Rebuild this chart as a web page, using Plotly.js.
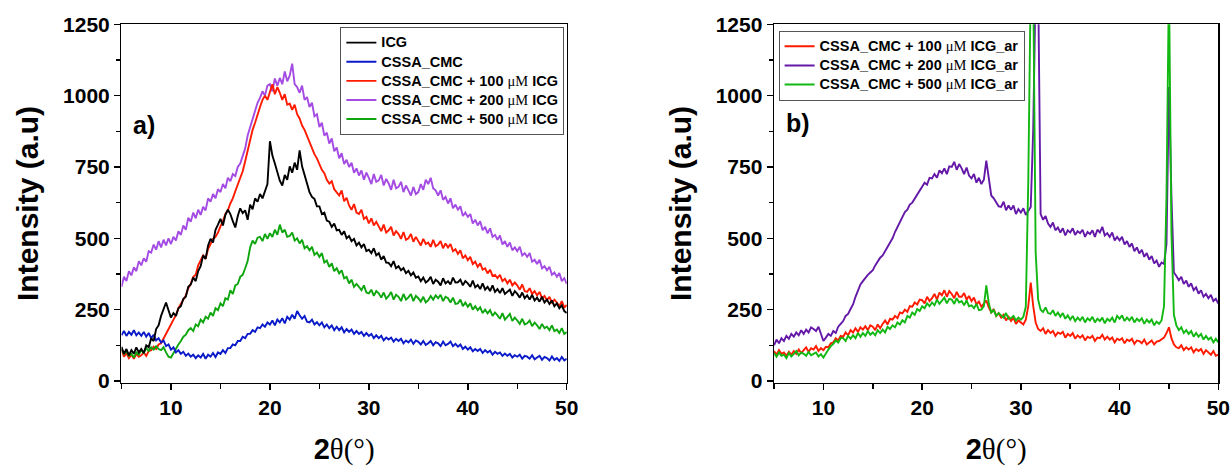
<!DOCTYPE html>
<html><head><meta charset="utf-8">
<script src="https://cdn.plot.ly/plotly-3.0.1.min.js"></script>
<style>html,body{margin:0;padding:0;background:#fff}#chart{width:1231px;height:466px}</style>
</head><body><div id="chart"></div>
<script>
// 2θ grid: first angle and step (degrees)
const twoThetaStart = 5;
const twoThetaStep = 0.25;

// ---- Panel a) ----
const icg = [
 /*5-9*/ 120,95,112,90, 108,96,118,100, 112,98,125,118, 150,140,182,195, 228,250,275,248,
 /*10-14*/ 222,238,228,255, 262,288,295,330, 338,362,350,385, 402,440,428,475, 498,485,530,548,
 /*15-19*/ 568,545,582,600, 585,560,538,578, 605,588,598,565, 618,602,640,628, 655,640,668,690,
 /*20-24*/ 840,790,762,728, 702,685,722,705, 752,730,765,740, 808,752,722,695, 662,645,638,612,
 /*25-29*/ 612,585,590,562, 558,540,552,528, 530,512,525,500, 508,490,498,475, 485,468,480,455,
 /*30-34*/ 460,448,465,440, 448,425,438,415, 414,402,420,395, 402,388,396,378, 386,370,380,362,
 /*35-39*/ 366,350,362,345, 352,365,340,355, 348,335,360,342, 350,338,362,345, 346,355,335,350,
 /*40-44*/ 342,330,352,328, 336,322,342,320, 330,315,335,312, 322,308,325,305, 312,320,298,315,
 /*45-49*/ 305,292,310,290, 300,285,302,282, 292,278,295,275, 285,270,282,262, 272,255,265,245,
 /*50*/ 238];
const cssaCmc = [
 /*5-9*/ 160,175,158,172, 162,178,160,170, 158,172,155,168, 150,162,142,150, 135,142,122,128,
 /*10-14*/ 110,118,100,108, 95,102,88,96, 85,92,80,90, 82,95,78,92, 85,98,84,100,
 /*15-19*/ 95,108,98,115, 115,128,125,140, 140,155,150,165, 165,178,172,188, 185,198,190,205,
 /*20-24*/ 198,212,195,215, 205,220,202,225, 215,232,218,245, 230,218,228,208, 205,215,198,206,
 /*25-29*/ 195,205,188,198, 185,195,178,190, 178,188,170,182, 172,180,165,175, 165,172,158,168,
 /*30-34*/ 158,165,150,160, 150,158,142,152, 145,152,138,148, 140,148,132,142, 135,145,130,142,
 /*35-39*/ 137,128,140,126, 132,140,125,136, 132,122,138,125, 130,138,122,130, 120,128,112,120,
 /*40-44*/ 110,118,104,112, 105,112,98,108, 100,106,92,102, 95,100,88,96, 88,95,82,90,
 /*45-49*/ 85,92,78,88, 85,78,90,76, 82,88,74,84, 80,72,86,74, 80,70,84,72,
 /*50*/ 78];
const icg100 = [
 /*5-9*/ 110,85,98,80, 92,78,95,85, 90,100,88,105, 108,120,112,128, 132,150,162,185,
 /*10-14*/ 198,215,230,255, 270,285,300,325, 340,365,372,405, 420,440,428,462, 480,498,505,520,
 /*15-19*/ 542,560,585,598, 622,640,665,688, 715,735,770,805, 850,880,905,935, 960,985,1000,985,
 /*20-24*/ 1015,1040,1005,1030, 1010,985,1005,968, 972,950,968,935, 920,895,880,858, 840,815,795,780,
 /*25-29*/ 762,740,728,705, 692,700,672,660, 650,668,630,642, 615,600,620,590, 585,600,568,575,
 /*30-34*/ 552,570,545,558, 540,525,548,520, 528,540,510,525, 515,498,522,495, 500,515,488,505,
 /*35-39*/ 490,475,498,480, 485,470,495,472, 478,490,465,482, 468,480,455,462, 445,458,430,440,
 /*40-44*/ 423,435,410,418, 400,412,390,395, 377,390,368,372, 360,372,350,358, 342,355,335,345,
 /*45-49*/ 335,320,338,315, 312,325,305,315, 300,312,290,298, 283,295,275,285, 275,262,280,258,
 /*50*/ 266];
const icg200 = [
 /*5-9*/ 330,365,350,385, 370,398,385,420, 405,430,418,455, 450,478,460,490, 468,495,475,500,
 /*10-14*/ 480,505,492,525, 512,545,530,572, 558,590,570,600, 582,610,598,640, 628,655,640,672,
 /*15-19*/ 662,690,675,712, 700,725,718,750, 762,790,815,860, 888,915,942,975, 992,1015,1000,1035,
 /*20-24*/ 1040,1015,1060,1035, 1062,1040,1085,1050, 1070,1112,1040,1030, 1010,1035,985,995, 960,975,928,935,
 /*25-29*/ 890,905,860,870, 832,850,805,818, 780,798,760,775, 750,765,730,745, 720,738,705,730,
 /*30-34*/ 712,690,725,698, 703,722,685,708, 692,670,705,675, 680,698,662,685, 668,650,680,655,
 /*35-39*/ 662,690,670,705, 690,712,675,668, 650,668,635,645, 622,640,605,618, 600,612,578,590,
 /*40-44*/ 575,585,552,565, 545,560,528,540, 517,535,505,512, 495,510,478,490, 470,485,458,468,
 /*45-49*/ 455,470,440,448, 435,448,418,425, 410,425,395,402, 388,400,372,380, 365,378,350,360,
 /*50*/ 340];
const icg500 = [
 /*5-9*/ 112,95,105,88, 95,82,100,92, 108,98,115,105, 118,110,122,112, 108,118,100,85,
 /*10-14*/ 82,98,110,128, 140,155,162,178, 185,175,198,192, 215,205,225,218, 240,228,255,248,
 /*15-19*/ 272,262,290,285, 318,305,335,340, 365,372,395,420, 468,492,480,502, 505,490,515,498,
 /*20-24*/ 518,505,530,512, 548,520,530,505, 508,520,492,500, 482,495,465,472, 458,470,442,450,
 /*25-29*/ 435,448,415,422, 400,412,385,395, 377,388,360,365, 342,355,330,340, 330,318,335,310,
 /*30-34*/ 307,320,298,315, 307,292,310,288, 298,312,285,302, 295,280,305,285, 293,305,280,298,
 /*35-39*/ 290,278,295,275, 283,298,285,300, 290,302,280,295, 290,275,292,270, 272,285,262,275,
 /*40-44*/ 260,272,250,262, 248,258,238,250, 237,248,228,240, 230,218,238,215, 225,235,210,222,
 /*45-49*/ 212,200,218,198, 202,212,192,205, 195,182,200,185, 190,178,195,175, 180,168,185,165,
 /*50*/ 172];

// ---- Panel b) ----
const icg100ar = [
 /*5-9*/ 105,92,108,95, 100,88,102,92, 105,95,110,98, 108,118,102,115, 110,122,105,115,
 /*10-14*/ 108,120,118,132, 135,150,142,158, 155,170,160,178, 170,185,172,188, 180,192,178,195,
 /*15-19*/ 190,178,198,185, 200,212,198,218, 215,228,220,240, 237,250,242,262, 260,275,268,285,
 /*20-24*/ 283,272,295,280, 290,305,285,310, 300,318,295,315, 305,290,312,295, 295,308,285,298,
 /*25-29*/ 280,292,268,278, 260,272,282,258, 240,252,228,238, 222,232,212,225, 210,222,200,212,
 /*30-34*/ 205,198,215,262, 345,262,205,182, 175,185,165,178, 168,175,158,170, 165,172,152,165,
 /*35-39*/ 158,168,148,160, 152,160,142,155, 150,158,140,152, 150,162,145,155, 145,152,135,148,
 /*40-44*/ 143,150,132,145, 140,148,130,142, 140,132,145,128, 135,142,128,138, 140,145,152,168,
 /*45-49*/ 188,150,128,118, 115,125,108,118, 110,118,100,112, 105,112,95,108, 100,92,105,88,
 /*50*/ 92];
const icg200ar = [
 /*5-9*/ 125,145,132,150, 140,158,148,165, 155,170,160,178, 165,180,170,188, 182,175,190,168,
 /*10-14*/ 140,152,165,158, 175,168,190,200, 210,228,235,252, 268,295,320,338, 350,362,372,380,
 /*15-19*/ 388,405,418,432, 440,455,472,485, 500,522,540,558, 570,592,600,618, 625,640,652,668,
 /*20-24*/ 680,695,688,712, 710,725,712,738, 728,745,725,752, 750,768,740,760, 745,725,748,720,
 /*25-29*/ 710,725,695,712, 690,705,772,700, 650,640,625,612, 610,628,598,615, 600,615,585,602,
 /*30-34*/ 590,605,582,598, 610,880,1400,1400, 585,565,578,552, 540,555,528,538, 520,535,510,528,
 /*35-39*/ 520,535,512,525, 518,530,505,522, 515,528,505,530, 520,540,510,518, 505,520,492,505,
 /*40-44*/ 493,505,478,490, 470,482,455,468, 447,460,435,448, 425,438,412,422, 400,415,410,480,
 /*45-49*/ 1030,650,380,368, 353,365,340,352, 330,342,318,328, 306,318,295,305, 290,302,280,288,
 /*50*/ 271];
const icg500ar = [
 /*5-9*/ 98,85,100,88, 92,80,98,86, 95,105,90,100, 95,88,102,90, 95,100,86,94,
 /*10-14*/ 82,98,110,122, 130,142,135,150, 150,140,158,148, 160,150,168,155, 168,158,175,162,
 /*15-19*/ 170,160,178,168, 180,170,190,182, 195,188,205,198, 213,205,228,222, 240,232,252,245,
 /*20-24*/ 262,255,272,262, 275,265,285,270, 280,292,272,288, 285,270,290,275, 280,265,282,262,
 /*25-29*/ 265,255,270,248, 250,262,335,272, 240,248,228,238, 230,222,238,218, 220,228,212,222,
 /*30-34*/ 215,225,260,700, 1400,1400,450,285, 250,242,258,238, 235,248,228,240, 225,238,218,230,
 /*35-39*/ 215,228,210,222, 212,225,205,220, 212,225,205,218, 210,222,202,218, 210,222,205,228,
 /*40-44*/ 218,230,210,222, 212,225,205,218, 210,220,200,215, 205,215,195,208, 200,212,262,650,
 /*45-49*/ 1400,520,232,195, 178,188,168,178, 165,175,155,168, 155,165,145,158, 145,152,135,148,
 /*50*/ 135];

const namesA = ['ICG', 'CSSA_CMC', 'CSSA_CMC + 100 μM ICG', 'CSSA_CMC + 200 μM ICG', 'CSSA_CMC + 500 μM ICG'];
const namesB = ['CSSA_CMC + 100 μM ICG_ar', 'CSSA_CMC + 200 μM ICG_ar', 'CSSA_CMC + 500 μM ICG_ar'];

const MU = '<span style="font-family:Liberation Serif;font-weight:normal">μM</span>';
function label(s) { return '<span style="font-size:14.5px">' + s.replace('μM', MU) + '</span>'; }

function tr(y, name, color, xa, ya, leg, rank) {
  return {
    type: 'scatter', mode: 'lines', x0: twoThetaStart, dx: twoThetaStep, y: y,
    name: label(name), xaxis: xa, yaxis: ya, legend: leg, legendrank: rank,
    line: {color: color, width: 1.9}, hoverinfo: 'skip'
  };
}

const data = [
  tr(icg200, namesA[3], '#a44be4', 'x', 'y', 'legend', 4),
  tr(icg100, namesA[2], '#ff1a00', 'x', 'y', 'legend', 3),
  tr(icg500, namesA[4], '#0ea60e', 'x', 'y', 'legend', 5),
  tr(cssaCmc, namesA[1], '#0b1ac8', 'x', 'y', 'legend', 2),
  tr(icg, namesA[0], '#000000', 'x', 'y', 'legend', 1),
  tr(icg200ar, namesB[1], '#6418a8', 'x2', 'y2', 'legend2', 2),
  tr(icg100ar, namesB[0], '#ff1a00', 'x2', 'y2', 'legend2', 1),
  tr(icg500ar, namesB[2], '#12b812', 'x2', 'y2', 'legend2', 3)
];

const SANS = 'Liberation Sans, Arial, sans-serif';
const xTitle = '2<span style="font-family:Liberation Serif;font-weight:normal">θ(°)</span>';

function xAxis(domain, anchor) {
  return {
    domain: domain, anchor: anchor, range: [5, 50], tick0: 0, dtick: 10,
    showline: true, linecolor: '#000', linewidth: 1.5, mirror: true,
    ticks: 'outside', ticklen: 6, tickwidth: 1.5, tickcolor: '#000',
    minor: {dtick: 5, tick0: 0, ticks: 'outside', ticklen: 5, tickwidth: 1.5, tickcolor: '#000'},
    showgrid: false, zeroline: false,
    tickfont: {family: SANS, size: 21, color: '#000', weight: 'bold'},
    title: {text: xTitle, standoff: 29, font: {family: SANS, size: 29, color: '#000', weight: 'bold'}}
  };
}
function yAxis(domain, anchor) {
  return {
    domain: domain, anchor: anchor, range: [-6, 1250], tick0: 0, dtick: 250,
    showline: true, linecolor: '#000', linewidth: 1.5, mirror: true,
    ticks: 'outside', ticklen: 6, tickwidth: 1.5, tickcolor: '#000',
    minor: {dtick: 125, tick0: 0, ticks: 'outside', ticklen: 4, tickwidth: 1.5, tickcolor: '#000'},
    showgrid: false, zeroline: false,
    tickfont: {family: SANS, size: 21, color: '#000', weight: 'bold'},
    title: {text: 'Intensity (a.u)', standoff: 15, font: {family: SANS, size: 30, color: '#000', weight: 'bold'}}
  };
}

const legendFont = {family: SANS, size: 12.4, color: '#000', weight: 'bold'};
const layout = {
  width: 1231, height: 466,
  margin: {l: 0, r: 0, t: 0, b: 0},
  paper_bgcolor: '#fff', plot_bgcolor: '#fff',
  showlegend: true,
  xaxis: xAxis([0.0987, 0.4604], 'y'),
  yaxis: yAxis([0.1788, 0.9479], 'x'),
  xaxis2: xAxis([0.6288, 0.9897], 'y2'),
  yaxis2: yAxis([0.1788, 0.9479], 'x2'),
  legend: {x: 0.2765, y: 0.942, xanchor: 'left', yanchor: 'top', bgcolor: '#fff',
           bordercolor: '#555', borderwidth: 1, font: legendFont, tracegroupgap: 0},
  legend2: {x: 0.6325, y: 0.934, xanchor: 'left', yanchor: 'top', bgcolor: '#fff',
            bordercolor: '#555', borderwidth: 1, font: legendFont, tracegroupgap: 0},
  annotations: [
    {text: 'a)', xref: 'paper', yref: 'paper', x: 0.117, y: 0.732, xanchor: 'center', yanchor: 'middle',
     showarrow: false, font: {family: SANS, size: 25, color: '#000', weight: 'bold'}},
    {text: 'b)', xref: 'paper', yref: 'paper', x: 0.648, y: 0.736, xanchor: 'center', yanchor: 'middle',
     showarrow: false, font: {family: SANS, size: 25, color: '#000', weight: 'bold'}}
  ]
};

Plotly.newPlot('chart', data, layout, {displayModeBar: false, staticPlot: true});
</script>
</body></html>
